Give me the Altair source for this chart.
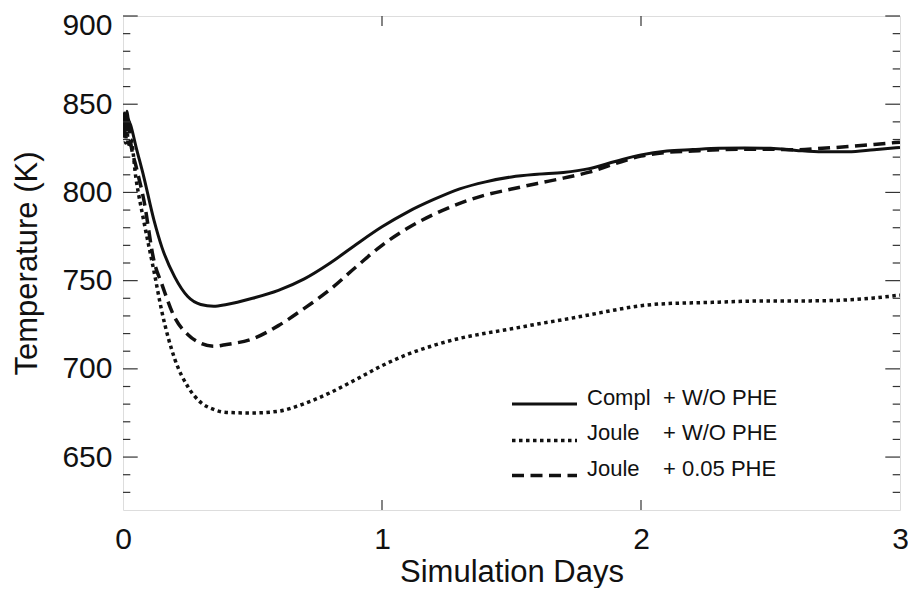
import altair as alt
import pandas as pd

# ---------------- data ----------------
days = [0.0, 0.005, 0.01, 0.015, 0.02, 0.03, 0.05, 0.08, 0.12, 0.15, 0.2, 0.25,
        0.3, 0.35, 0.4, 0.5, 0.6, 0.7, 0.8, 0.9, 1.0, 1.1, 1.2, 1.3, 1.4, 1.5,
        1.6, 1.7, 1.8, 1.9, 2.0, 2.1, 2.2, 2.3, 2.4, 2.5, 2.6, 2.7, 2.8, 2.9, 3.0]

compl_wo_phe = [836, 845, 840, 846, 842, 838, 826, 809, 784, 769, 752, 741,
                736.5, 735.5, 736.5, 740, 744.5, 751, 760, 770.5, 780.5, 789, 796, 802, 806, 808.8,
                810.3, 811.3, 813.5, 817.5, 821.3, 823.5, 824.3, 825, 825.2, 825, 823.8, 823, 823, 824.2, 825.5]

joule_wo_phe = [835, 844, 828, 840, 826, 830, 808, 784, 755, 732.5, 705.5, 690,
                681, 677, 675.3, 675, 676, 680.3, 686.5, 694, 701.8, 708.3, 713.3, 717.3, 720.2, 722.7,
                725.4, 727.9, 730.6, 733.4, 735.8, 737, 737.4, 737.8, 738.3, 738.5, 738.5, 738.6, 739.1, 740.2, 741.8]

joule_005_phe = [838, 830, 844, 834, 842, 828, 815, 796, 761, 748, 729, 719.5,
                 714.5, 712.8, 713.8, 717, 724.5, 734.3, 745, 757.8, 770, 779.8, 787.6, 793.8, 798.6, 801.9,
                 805.1, 808.1, 811.5, 816.3, 820.6, 822.7, 823.5, 824.2, 824.5, 824.5, 824.2, 825, 826, 827.2, 828.5]

x_tick_labels = [0, 1, 2, 3]
x_major_ticks = [1, 2]
y_tick_labels = [650, 700, 750, 800, 850, 900]
y_minor_ticks = [630, 640, 660, 670, 680, 690, 710, 720, 730, 740,
                 760, 770, 780, 790, 810, 820, 830, 840, 860, 870, 880, 890]

legend_left = ["Compl", "Joule", "Joule"]
legend_right = ["+ W/O PHE", "+ W/O PHE", "+ 0.05 PHE"]

# ---------------- layout / style ----------------
W, H = 777, 494
FONT = "Liberation Sans"
INK = "#111111"
FRAME = "#333333"

xscale = alt.Scale(domain=[0, 3], nice=False, zero=False)
yscale = alt.Scale(domain=[620, 900], nice=False, zero=False)

xaxis = alt.Axis(values=x_tick_labels, format="d", ticks=False, domain=False, grid=False,
                 labelFontSize=30, labelFont=FONT, labelColor=INK, labelFlush=False,
                 labelBaseline="middle", labelPadding=29,
                 title="Simulation Days", titleFontSize=31, titleFont=FONT,
                 titleFontWeight="normal", titleColor=INK, titleY=71,
                 titleBaseline="alphabetic")
yaxis = alt.Axis(values=y_tick_labels, format="d", ticks=False, domain=False, grid=False,
                 labelFontSize=30, labelFont=FONT, labelColor=INK, labelFlush=True,
                 labelFlushOffset=6, labelPadding=11,
                 title="Temperature (K)", titleFontSize=31, titleFont=FONT,
                 titleFontWeight="normal", titleColor=INK, titleX=-96, titleY=H / 2,
                 titleBaseline="middle", titleAlign="center")


def X():
    return alt.X("day:Q", scale=xscale, axis=xaxis)


def Y():
    return alt.Y("temp:Q", scale=yscale, axis=yaxis)


def series_layer(values, dash, width):
    df = pd.DataFrame({"day": days, "temp": values})
    kw = dict(color=INK, strokeWidth=width, interpolate="monotone", clip=True, strokeCap="butt")
    if dash:
        kw["strokeDash"] = dash
    return alt.Chart(df).mark_line(**kw).encode(x=X(), y=Y())


DOT = [3.5, 3.5]
DASH = [12, 6.5]
solid = series_layer(compl_wo_phe, None, 3)
dotted = series_layer(joule_wo_phe, DOT, 3.5)
dashed = series_layer(joule_005_phe, DASH, 3.5)

# inward ticks on all four sides
ymaj = pd.DataFrame({"temp": y_tick_labels})
ymin = pd.DataFrame({"temp": y_minor_ticks})
xmaj = pd.DataFrame({"day": x_major_ticks})
tick_style = dict(color=FRAME, strokeWidth=1.2)

ticks = [
    alt.Chart(ymaj).mark_rule(**tick_style).encode(y=Y(), x=alt.value(0), x2=alt.value(14.7)),
    alt.Chart(ymin).mark_rule(**tick_style).encode(y=Y(), x=alt.value(0), x2=alt.value(7.3)),
    alt.Chart(ymaj).mark_rule(**tick_style).encode(y=Y(), x=alt.value(W - 14.7), x2=alt.value(W)),
    alt.Chart(ymin).mark_rule(**tick_style).encode(y=Y(), x=alt.value(W - 7.3), x2=alt.value(W)),
    alt.Chart(xmaj).mark_rule(**tick_style).encode(x=X(), y=alt.value(H - 10), y2=alt.value(H)),
    alt.Chart(xmaj).mark_rule(**tick_style).encode(x=X(), y=alt.value(0), y2=alt.value(10)),
]

# legend (drawn inside the plot)
one = alt.Data(values=[{}])
leg_line_y = [388, 424.5, 459.5]
leg_text_y = [382, 417, 453]
leg_styles = [(None, 3), (DOT, 3.5), (DASH, 3.5)]
legend = []
for i in range(3):
    dash, wdt = leg_styles[i]
    kw = dict(color=INK, strokeWidth=wdt, strokeCap="butt")
    if dash:
        kw["strokeDash"] = dash
    legend.append(alt.Chart(one).mark_rule(**kw).encode(
        x=alt.value(389), x2=alt.value(454), y=alt.value(leg_line_y[i])))
    legend.append(alt.Chart(one).mark_text(
        align="left", baseline="middle", font=FONT, fontSize=22, color=INK).encode(
        x=alt.value(464), y=alt.value(leg_text_y[i]), text=alt.value(legend_left[i])))
    legend.append(alt.Chart(one).mark_text(
        align="left", baseline="middle", font=FONT, fontSize=22, color=INK).encode(
        x=alt.value(540), y=alt.value(leg_text_y[i]), text=alt.value(legend_right[i])))

chart = alt.layer(solid, dotted, dashed, *ticks, *legend).properties(
    width=W, height=H,
    autosize=alt.AutoSizeParams(type="none"),
    padding={"left": 115, "top": 8, "right": 8, "bottom": 78},
).configure_view(stroke=FRAME, strokeWidth=1.5).configure(background="white")

chart.save("out.html", embed_options={"renderer": "svg", "actions": False})
